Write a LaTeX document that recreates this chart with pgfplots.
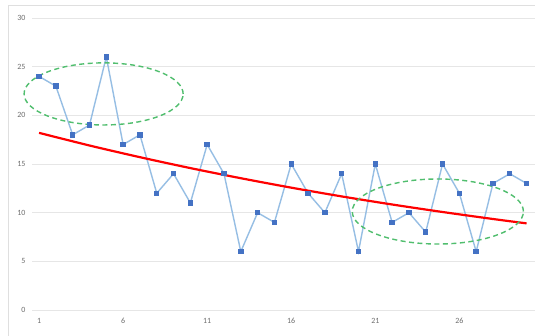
\documentclass[border=0pt]{standalone}
\usepackage{pgfplots}
\pgfplotsset{compat=1.18}
\usepackage{fontspec}
\setmainfont{Carlito}
\definecolor{lineblue}{RGB}{150,190,228}
\definecolor{markblue}{RGB}{68,114,196}
\definecolor{dgreen}{RGB}{80,190,110}
\definecolor{gridc}{RGB}{230,230,230}
\definecolor{labc}{RGB}{110,110,110}
\begin{document}
\begin{tikzpicture}[x=1bp,y=1bp]
\useasboundingbox (0,0) rectangle (535,335);
\clip (0,0) rectangle (535,335);
\fill[white] (0,0) rectangle (535,335);
\draw[gray!25, line width=0.8bp] (8,-10) rectangle (545,330);
\begin{axis}[
  at={(32bp,25bp)}, anchor=south west,
  scale only axis, width=503bp, height=292bp,
  xmin=0.58, xmax=30.5, ymin=0, ymax=30,
  axis line style={draw=none},
  major tick style={draw=none},
  xtick={1,6,11,16,21,26},
  ytick={0,5,10,15,20,25,30},
  ymajorgrids, grid style={gridc, line width=0.9bp},
  ticklabel style={font=\fontsize{8}{9.5}\selectfont, text=labc},
  xticklabel style={yshift=-5bp},
  yticklabel style={xshift=-3bp},
  /pgf/number format/assume math mode=true,
  clip=false,
]
\addplot[lineblue, line width=1.4bp, mark=square*, mark size=2.0bp,
  mark options={fill=markblue, draw=markblue}] coordinates {
(1,24) (2,23) (3,18) (4,19) (5,26) (6,17) (7,18) (8,12) (9,14) (10,11)
(11,17) (12,14) (13,6) (14,10) (15,9) (16,15) (17,12) (18,10) (19,14) (20,6)
(21,15) (22,9) (23,10) (24,8) (25,15) (26,12) (27,6) (28,13) (29,14) (30,13)
};
\addplot[red, line width=2.2bp, smooth] coordinates {
(1,18.2) (4,16.90) (7,15.70) (10,14.58) (13,13.54) (16,12.57) (19,11.67)
(22,10.84) (25,10.07) (28,9.35) (30,8.9)
};
\draw[dgreen, line width=1.4bp, dash pattern=on 5bp off 3.5bp]
  (axis cs:4.84,22.2) ellipse [x radius=4.73, y radius=3.19];
\draw[dgreen, line width=1.4bp, dash pattern=on 5bp off 3.5bp]
  (axis cs:24.72,10.12) ellipse [x radius=5.09, y radius=3.34];
\end{axis}
\end{tikzpicture}
\end{document}
